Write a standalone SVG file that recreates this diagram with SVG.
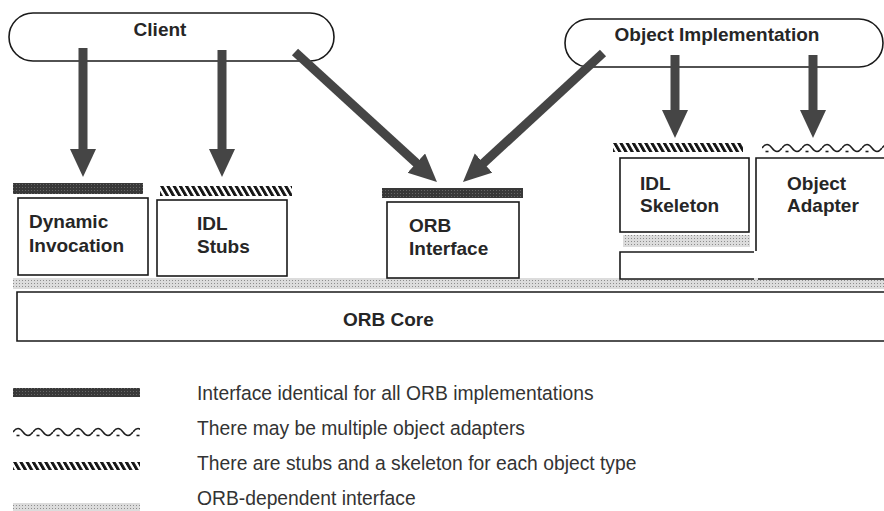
<svg xmlns="http://www.w3.org/2000/svg" width="884" height="511" viewBox="0 0 884 511">
  <style>
    .pill { fill: #fff; stroke: #1a1a1a; stroke-width: 1.6; }
    .box { fill: #fff; stroke: #1a1a1a; stroke-width: 1.6; }
    .label { font-family: "Liberation Sans", Arial, sans-serif; font-weight: bold; font-size: 19px; fill: #262626; }
    .legend { font-family: "Liberation Sans", Arial, sans-serif; font-size: 19.3px; fill: #333; }
    .shaft { stroke: #454545; stroke-width: 9; fill: none; marker-end: url(#head); }
  </style>
  <defs>
    <marker id="head" markerUnits="userSpaceOnUse" markerWidth="30" markerHeight="28" refX="2" refY="13" orient="auto">
      <path d="M0,0 L28,13 L0,26 Z" fill="#454545"/>
    </marker>
    <!-- solid interface bar: dark with faint grain -->
    <pattern id="dark" patternUnits="userSpaceOnUse" width="3" height="3">
      <rect width="3" height="3" fill="#383838"/>
      <rect x="1" y="1" width="1" height="1" fill="#666"/>
    </pattern>
    <!-- diagonal hatching for stubs/skeleton -->
    <pattern id="hatch" patternUnits="userSpaceOnUse" width="6.2" height="12" patternTransform="skewX(30)">
      <rect x="0" y="0" width="3.4" height="12" fill="#151515"/>
    </pattern>
    <!-- fine stipple for ORB-dependent interface -->
    <pattern id="stipple" patternUnits="userSpaceOnUse" width="3" height="3">
      <rect width="3" height="3" fill="#dcdcdc"/>
      <rect x="1" y="1" width="1" height="1" fill="#8c8c8c"/>
    </pattern>
    <!-- wave with dashes for object adapters -->
    <pattern id="wave" patternUnits="userSpaceOnUse" width="20" height="12">
      <path d="M0,6 Q5,-1 10,6 Q15,13 20,6" fill="none" stroke="#1e1e1e" stroke-width="1.5"/>
      <path d="M3.5,9.5 H6.5" stroke="#1e1e1e" stroke-width="1.6"/>
    </pattern>
  </defs>

  <!-- interface bars above the boxes -->
  <g id="bars">
    <rect x="13" y="183" width="130" height="11" fill="url(#dark)"/>
    <rect x="382" y="188" width="141" height="10" fill="url(#dark)"/>
    <g transform="translate(160,186)"><rect width="132" height="10" fill="url(#hatch)"/></g>
    <g transform="translate(613,143)"><rect width="130" height="9" fill="url(#hatch)"/></g>
    <g transform="translate(762,142)"><rect width="122" height="12" fill="url(#wave)"/></g>
    <rect x="13" y="278" width="871" height="11" fill="url(#stipple)"/>
    <rect x="623" y="235" width="127" height="12" fill="url(#stipple)"/>
  </g>

  <g id="client">
    <rect class="pill" x="9" y="13" width="325" height="48" rx="24"/>
    <text class="label" x="160" y="36" text-anchor="middle">Client</text>
  </g>

  <g id="object-implementation">
    <rect class="pill" x="565" y="19" width="318" height="48" rx="24"/>
    <text class="label" x="717" y="41" text-anchor="middle">Object Implementation</text>
  </g>

  <g id="dynamic-invocation">
    <rect class="box" x="18" y="198" width="130" height="77"/>
    <text class="label" x="29" y="228">Dynamic</text>
    <text class="label" x="29" y="252">Invocation</text>
  </g>

  <g id="idl-stubs">
    <rect class="box" x="157" y="200" width="130" height="76"/>
    <text class="label" x="197" y="230">IDL</text>
    <text class="label" x="197" y="253">Stubs</text>
  </g>

  <g id="orb-interface">
    <rect class="box" x="387" y="202" width="132" height="76"/>
    <text class="label" x="409" y="232">ORB</text>
    <text class="label" x="409" y="255">Interface</text>
  </g>

  <g id="idl-skeleton">
    <rect class="box" x="620" y="158" width="129" height="74"/>
    <text class="label" x="640" y="190">IDL</text>
    <text class="label" x="640" y="212">Skeleton</text>
  </g>

  <g id="object-adapter">
    <path class="box" d="M884,158 H756 V251 M754,252 H620 V279 H754 M758,279 H884"/>
    <text class="label" x="787" y="190">Object</text>
    <text class="label" x="787" y="212">Adapter</text>
  </g>

  <g id="orb-core">
    <path class="box" d="M884,292 H17 V341 H884"/>
    <text class="label" x="343" y="326">ORB Core</text>
  </g>

  <g id="connectors">
    <line class="shaft" x1="83" y1="48" x2="83" y2="151"/>
    <line class="shaft" x1="222" y1="50" x2="222" y2="151"/>
    <line class="shaft" x1="295" y1="52" x2="417.8" y2="164.4"/>
    <line class="shaft" x1="603" y1="53" x2="482.1" y2="164.4"/>
    <line class="shaft" x1="675" y1="55" x2="675" y2="112"/>
    <line class="shaft" x1="813" y1="55" x2="813" y2="112"/>
  </g>

  <g id="legend">
    <rect x="13" y="388" width="127" height="9" fill="url(#dark)"/>
    <g transform="translate(13,426)"><rect width="127" height="12" fill="url(#wave)"/></g>
    <g transform="translate(13,462)"><rect width="127" height="8" fill="url(#hatch)"/></g>
    <rect x="13" y="503" width="127" height="8" fill="url(#stipple)"/>
    <text class="legend" x="197" y="400">Interface identical for all ORB implementations</text>
    <text class="legend" x="197" y="435">There may be multiple object adapters</text>
    <text class="legend" x="197" y="470">There are stubs and a skeleton for each object type</text>
    <text class="legend" x="197" y="505">ORB-dependent interface</text>
  </g>
</svg>
